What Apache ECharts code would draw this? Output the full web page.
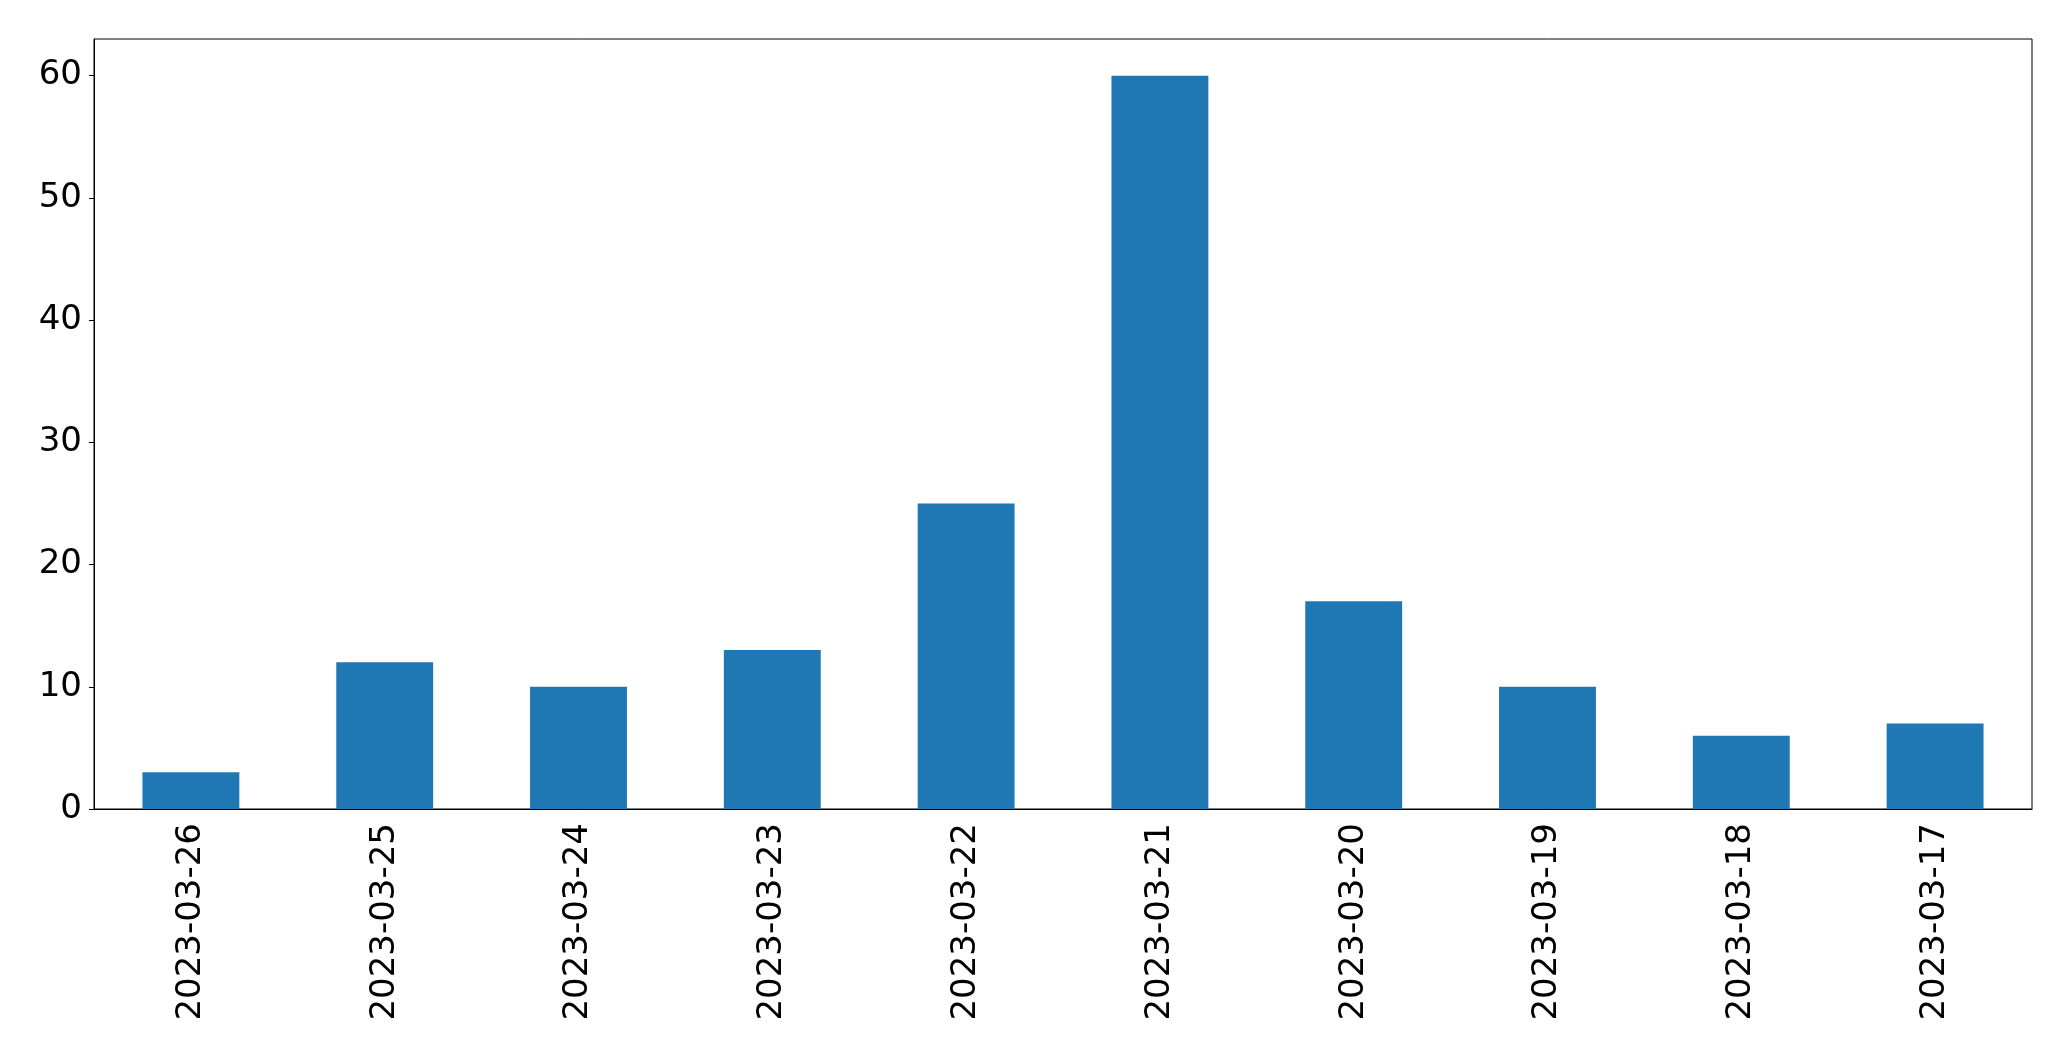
<!DOCTYPE html>
<html>
<head>
<meta charset="utf-8">
<script src="https://cdn.jsdelivr.net/npm/echarts@6/dist/echarts.min.js"></script>
<style>
  html, body { margin: 0; padding: 0; background: #fff; }
  #main { width: 2071px; height: 1061px; }
</style>
</head>
<body>
<div id="main"></div>
<script>
var dates = ['2023-03-26', '2023-03-25', '2023-03-24', '2023-03-23', '2023-03-22',
             '2023-03-21', '2023-03-20', '2023-03-19', '2023-03-18', '2023-03-17'];
var counts = [3, 12, 10, 13, 25, 60, 17, 10, 6, 7];
var yTicks = [0, 10, 20, 30, 40, 50, 60];

var myChart = echarts.init(document.getElementById('main'));

var font = 'DejaVu Sans';

option = {
    backgroundColor: '#ffffff',
    animation: false,
    grid: {
        left: 94,
        right: 39,
        top: 39,
        bottom: 252,
        show: true,
        borderColor: '#000',
        borderWidth: 1
    },
    xAxis: {
        type: 'category',
        data: dates,
        axisLine: { lineStyle: { color: '#000', width: 1 } },
        axisTick: { alignWithLabel: true, length: 5, lineStyle: { color: '#000' } },
        axisLabel: {
            rotate: 90,
            margin: 14,
            fontFamily: font,
            fontSize: 34,
            color: '#000'
        },
        splitLine: { show: false }
    },
    yAxis: {
        type: 'value',
        min: 0,
        max: 63,
        interval: 10,
        axisLine: { show: true, lineStyle: { color: '#000', width: 1 } },
        axisTick: { show: true, length: 5, lineStyle: { color: '#000' }, customValues: yTicks },
        axisLabel: {
            margin: 12,
            fontFamily: font,
            fontSize: 34,
            color: '#000',
            customValues: yTicks
        },
        splitLine: { show: false }
    },
    series: [
        {
            type: 'bar',
            data: counts,
            barWidth: '50%',
            itemStyle: { color: '#1f77b4' }
        }
    ]
};

myChart.setOption(option);
</script>
</body>
</html>
